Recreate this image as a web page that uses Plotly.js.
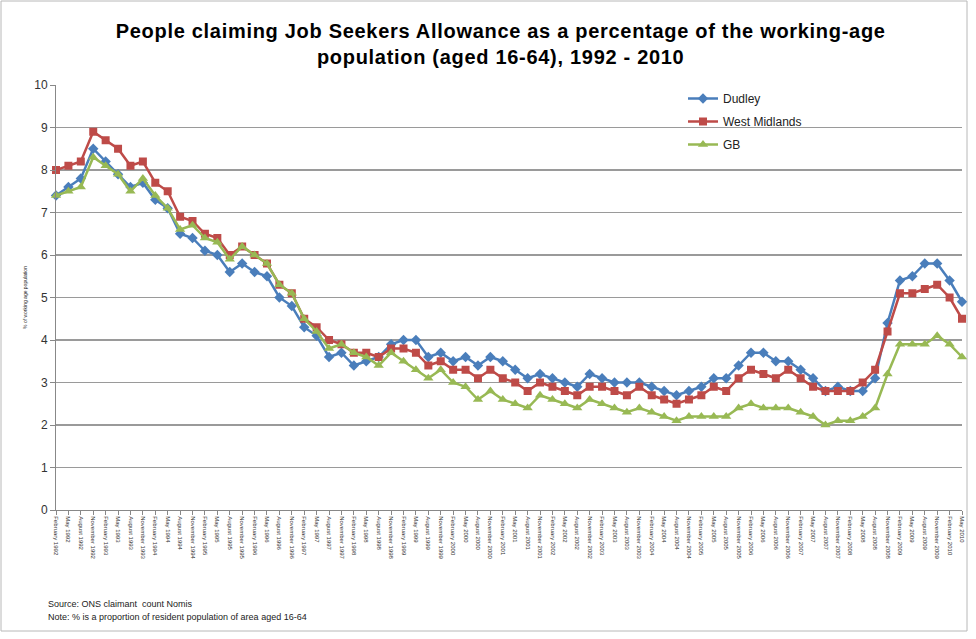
<!DOCTYPE html>
<html>
<head>
<meta charset="utf-8">
<script src="https://cdn.plot.ly/plotly-3.0.1.min.js"></script>
<style>
  html, body { margin: 0; padding: 0; background: #ffffff; }
  #chart { width: 976px; height: 639px; }
  #chart .gtitle { letter-spacing: 0.7px; }
</style>
</head>
<body>
<div id="chart"></div>
<script>
const quarters = [
  "February 1992","May 1992","August 1992","November 1992",
  "February 1993","May 1993","August 1993","November 1993",
  "February 1994","May 1994","August 1994","November 1994",
  "February 1995","May 1995","August 1995","November 1995",
  "February 1996","May 1996","August 1996","November 1996",
  "February 1997","May 1997","August 1997","November 1997",
  "February 1998","May 1998","August 1998","November 1998",
  "February 1999","May 1999","August 1999","November 1999",
  "February 2000","May 2000","August 2000","November 2000",
  "February 2001","May 2001","August 2001","November 2001",
  "February 2002","May 2002","August 2002","November 2002",
  "February 2003","May 2003","August 2003","November 2003",
  "February 2004","May 2004","August 2004","November 2004",
  "February 2005","May 2005","August 2005","November 2005",
  "February 2006","May 2006","August 2006","November 2006",
  "February 2007","May 2007","August 2007","November 2007",
  "February 2008","May 2008","August 2008","November 2008",
  "February 2009","May 2009","August 2009","November 2009",
  "February 2010","May 2010"
];

const dudley = [
  7.4, 7.6, 7.8, 8.5, 8.2, 7.9, 7.6, 7.7, 7.3, 7.1, 6.5, 6.4,
  6.1, 6.0, 5.6, 5.8, 5.6, 5.5, 5.0, 4.8, 4.3, 4.1, 3.6, 3.7,
  3.4, 3.5, 3.6, 3.9, 4.0, 4.0, 3.6, 3.7, 3.5, 3.6, 3.4, 3.6, 3.5,
  3.3, 3.1, 3.2, 3.1, 3.0, 2.9, 3.2, 3.1, 3.0, 3.0, 3.0, 2.9,
  2.8, 2.7, 2.8, 2.9, 3.1, 3.1, 3.4, 3.7, 3.7, 3.5, 3.5, 3.3,
  3.1, 2.8, 2.9, 2.8, 2.8, 3.1, 4.4, 5.4, 5.5, 5.8, 5.8, 5.4, 4.9
];

const westMidlands = [
  8.0, 8.1, 8.2, 8.9, 8.7, 8.5, 8.1, 8.2, 7.7, 7.5, 6.9, 6.8,
  6.5, 6.4, 6.0, 6.2, 6.0, 5.8, 5.3, 5.1, 4.5, 4.3, 4.0, 3.9,
  3.7, 3.7, 3.6, 3.8, 3.8, 3.7, 3.4, 3.5, 3.3, 3.3, 3.1, 3.3, 3.1,
  3.0, 2.8, 3.0, 2.9, 2.8, 2.7, 2.9, 2.9, 2.8, 2.7, 2.9, 2.7,
  2.6, 2.5, 2.6, 2.7, 2.9, 2.8, 3.1, 3.3, 3.2, 3.1, 3.3, 3.1,
  2.9, 2.8, 2.8, 2.8, 3.0, 3.3, 4.2, 5.1, 5.1, 5.2, 5.3, 5.0, 4.5
];

const gb = [
  7.4, 7.5, 7.6, 8.3, 8.1, 7.9, 7.5, 7.8, 7.4, 7.1, 6.6, 6.7,
  6.4, 6.3, 5.9, 6.2, 6.0, 5.8, 5.3, 5.1, 4.5, 4.2, 3.8, 3.9,
  3.7, 3.6, 3.4, 3.7, 3.5, 3.3, 3.1, 3.3, 3.0, 2.9, 2.6, 2.8, 2.6,
  2.5, 2.4, 2.7, 2.6, 2.5, 2.4, 2.6, 2.5, 2.4, 2.3, 2.4, 2.3,
  2.2, 2.1, 2.2, 2.2, 2.2, 2.2, 2.4, 2.5, 2.4, 2.4, 2.4, 2.3,
  2.2, 2.0, 2.1, 2.1, 2.2, 2.4, 3.2, 3.9, 3.9, 3.9, 4.1, 3.9, 3.6
];

const seriesNames = ["Dudley", "West Midlands", "GB"];
const yTicks = [0,1,2,3,4,5,6,7,8,9,10];

const FONT = "Liberation Sans, Arial, sans-serif";

function mk(name, y, color, symbol, size, group) {
  return {
    type: "scatter",
    mode: "lines+markers",
    name: name,
    legendgroup: group,
    x: quarters,
    y: y,
    line: { color: color, width: 2.5 },
    marker: { color: color, symbol: symbol, size: size, line: { width: 0 } },
    cliponaxis: false
  };
}

const traces = [
  mk(seriesNames[0], dudley, "#4a7ebb", "diamond", 8, "g1"),
  mk(seriesNames[1], westMidlands, "#be4b48", "square", 8, "g2"),
  mk(seriesNames[2], gb, "#98b954", "triangle-up", 9, "g3")
];

// plot area: x 56..962, y 85..510 in a 976x639 page
const PW = 906, PH = 425;
function px(x) { return (x - 56) / PW; }
function py(y) { return (510 - y) / PH; }

const layout = {
  width: 976,
  height: 639,
  margin: { l: 56, r: 14, t: 85, b: 129, pad: 0 },
  paper_bgcolor: "#ffffff",
  plot_bgcolor: "#ffffff",
  font: { family: FONT, color: "#222222", size: 12 },
  title: {
    text: "<b>People claiming Job Seekers Allowance as a percentage of the working-age<br>population (aged 16-64), 1992 - 2010</b>",
    font: { family: FONT, size: 20, color: "#000000" },
    x: 0.513,
    xanchor: "center",
    yref: "container",
    y: 0.94,
    yanchor: "top"
  },
  xaxis: {
    type: "category",
    range: [0, quarters.length - 1],
    tickmode: "array",
    tickvals: quarters,
    ticktext: quarters,
    tickangle: 90,
    tickfont: { family: FONT, size: 6, color: "#333333" },
    ticks: "outside",
    ticklen: 4,
    tickcolor: "#888888",
    showline: true,
    linecolor: "#888888",
    linewidth: 1,
    showgrid: false,
    zeroline: false,
    automargin: false,
    fixedrange: true
  },
  yaxis: {
    range: [0, 10],
    tickmode: "array",
    tickvals: yTicks,
    ticktext: yTicks.map(String),
    tickfont: { family: FONT, size: 12, color: "#333333" },
    ticks: "outside",
    ticklen: 5,
    tickcolor: "#888888",
    showline: true,
    linecolor: "#888888",
    linewidth: 1,
    showgrid: true,
    gridcolor: "#9a9a9a",
    gridwidth: 1.5,
    zeroline: false,
    automargin: false,
    fixedrange: true,
    title: {
      text: "% of working age population",
      font: { family: FONT, size: 5, color: "#222222" },
      standoff: 6
    }
  },
  showlegend: true,
  legend: {
    x: px(683),
    y: py(84),
    xanchor: "left",
    yanchor: "top",
    bgcolor: "rgba(255,255,255,0)",
    font: { family: FONT, size: 12, color: "#222222" },
    traceorder: "grouped",
    tracegroupgap: 4,
    itemwidth: 30
  },
  shapes: [
    {
      type: "rect", xref: "paper", yref: "paper",
      x0: px(1), x1: px(967), y0: py(631), y1: py(1),
      line: { color: "#b8b8b8", width: 1 },
      fillcolor: "rgba(0,0,0,0)",
      layer: "below"
    }
  ],
  annotations: [
    {
      text: "Source: ONS claimant  count Nomis",
      xref: "paper", yref: "paper",
      x: px(46), y: py(604),
      xanchor: "left", yanchor: "middle",
      showarrow: false,
      font: { family: FONT, size: 9, color: "#222222" }
    },
    {
      text: "Note: % is a proportion of resident population of area aged 16-64",
      xref: "paper", yref: "paper",
      x: px(46), y: py(617),
      xanchor: "left", yanchor: "middle",
      showarrow: false,
      font: { family: FONT, size: 9, color: "#222222" }
    }
  ]
};

Plotly.newPlot("chart", traces, layout, { displayModeBar: false, staticPlot: true });
</script>
</body>
</html>
